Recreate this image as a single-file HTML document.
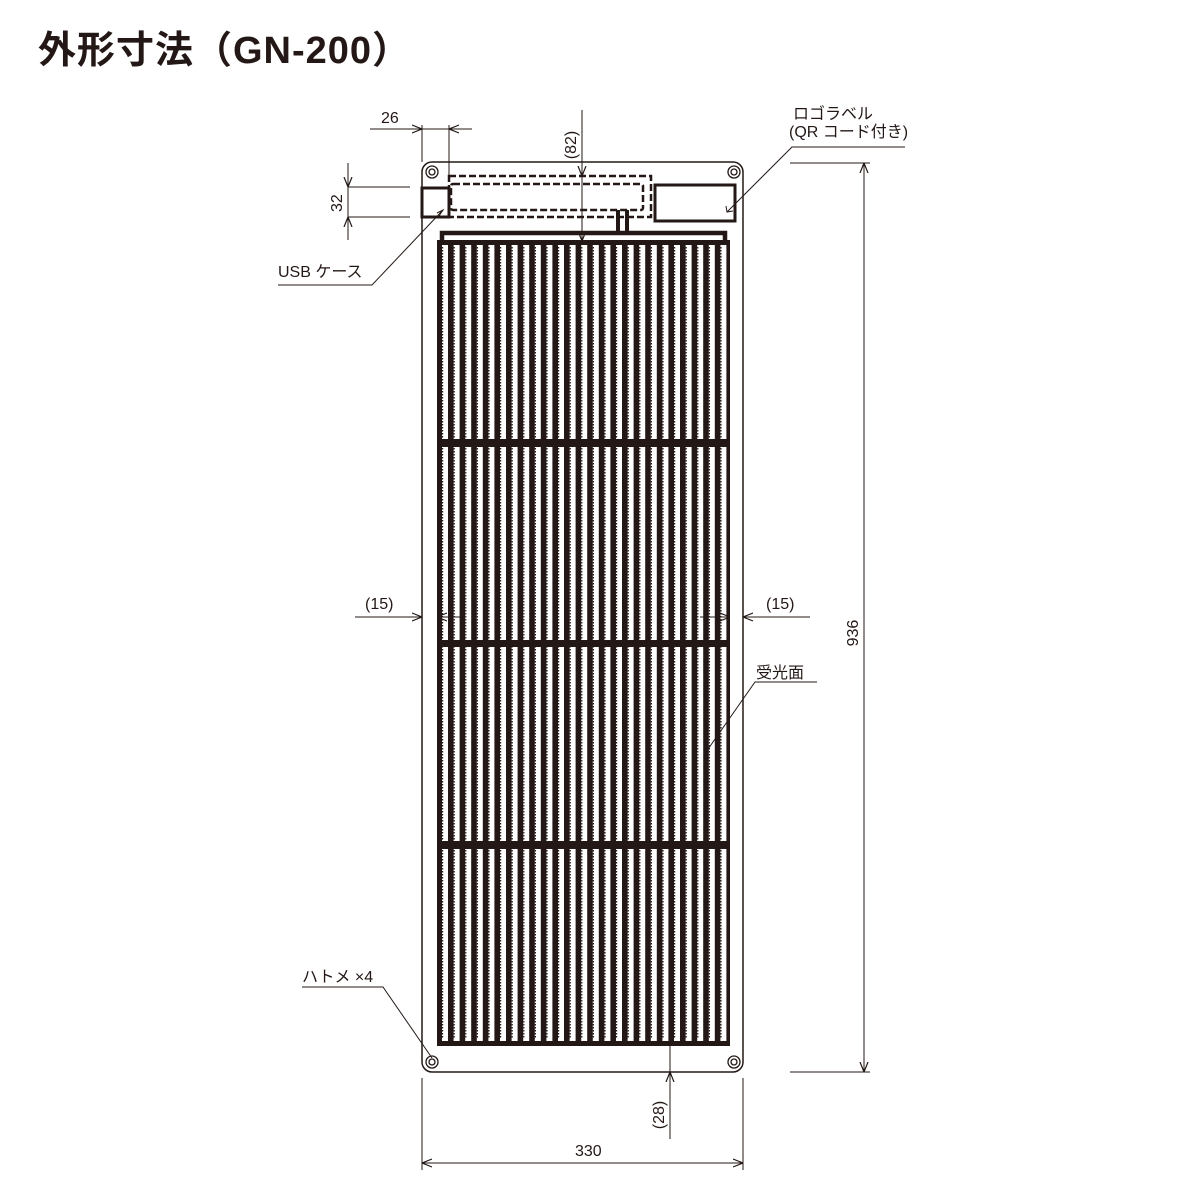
<!DOCTYPE html>
<html><head><meta charset="utf-8"><style>
html,body{margin:0;padding:0;background:#fff;}
svg{display:block;}
text{font-family:"Liberation Sans","Noto Sans CJK JP",sans-serif;fill:#231815;}
</style></head><body>
<svg width="1200" height="1200" viewBox="0 0 1200 1200" xmlns="http://www.w3.org/2000/svg">
<defs>
<g id="c">
<rect x="0" y="245" width="6" height="194" fill="#fff"/>
<rect x="0" y="447" width="6" height="193" fill="#fff"/>
<rect x="0" y="647" width="6" height="194" fill="#fff"/>
<rect x="0" y="849" width="6" height="192" fill="#fff"/>
<line x1="0.6" y1="247" x2="0.6" y2="1039" stroke="#231815" stroke-width="1.2" stroke-dasharray="1.5 1.5"/>
</g>
<marker id="ar" viewBox="0 0 10 10" refX="10" refY="5" markerWidth="10" markerHeight="10" markerUnits="userSpaceOnUse" orient="auto"><path d="M0,1 L10,5 L0,9" fill="none" stroke="#231815" stroke-width="1.2"/></marker>
</defs>
<text x="38" y="63" font-size="38" font-weight="bold" letter-spacing="1">外形寸法（GN-200）</text>

<rect x="422" y="162" width="321" height="910" rx="10" fill="#fff" stroke="#231815" stroke-width="1.5"/>
<g fill="none" stroke="#231815" stroke-width="1.3">
<circle cx="432" cy="172" r="6"/><circle cx="432" cy="172" r="3"/>
<circle cx="734" cy="172" r="6"/><circle cx="734" cy="172" r="3"/>
<circle cx="432" cy="1062" r="6"/><circle cx="432" cy="1062" r="3"/>
<circle cx="734" cy="1062" r="6"/><circle cx="734" cy="1062" r="3"/>
</g>
<rect x="437" y="240" width="293" height="806" fill="#231815"/>
<use href="#c" x="442"/><use href="#c" x="453.6"/><use href="#c" x="465.2"/><use href="#c" x="476.8"/><use href="#c" x="488.4"/>
<use href="#c" x="500"/><use href="#c" x="511.6"/><use href="#c" x="523.2"/><use href="#c" x="534.8"/><use href="#c" x="546.4"/>
<use href="#c" x="558"/><use href="#c" x="569.6"/><use href="#c" x="581.2"/><use href="#c" x="592.8"/><use href="#c" x="604.4"/>
<use href="#c" x="616"/><use href="#c" x="627.6"/><use href="#c" x="639.2"/><use href="#c" x="650.8"/><use href="#c" x="662.4"/>
<use href="#c" x="674"/><use href="#c" x="685.6"/><use href="#c" x="697.2"/><use href="#c" x="708.8"/><use href="#c" x="720.4"/>
<path d="M442,241 V233 H725 V241" fill="none" stroke="#231815" stroke-width="4.5"/>
<path d="M618,210 V233 M627,210 V233" fill="none" stroke="#231815" stroke-width="4"/>
<rect x="449" y="176" width="202" height="41" fill="none" stroke="#231815" stroke-width="2.5" stroke-dasharray="7 3"/>
<rect x="451" y="184" width="192" height="26" rx="2" fill="none" stroke="#231815" stroke-width="2.5" stroke-dasharray="7 3"/>
<rect x="422" y="188" width="27" height="29" fill="none" stroke="#231815" stroke-width="3"/>
<rect x="655" y="185" width="80" height="36" fill="none" stroke="#231815" stroke-width="3"/>

<g stroke="#231815" stroke-width="1" fill="none">
<line x1="422" y1="125" x2="422" y2="162"/><line x1="449" y1="125" x2="449" y2="176"/>
<line x1="370" y1="129" x2="422" y2="129" marker-end="url(#ar)"/>
<line x1="472" y1="129" x2="449" y2="129" marker-end="url(#ar)"/>
<line x1="422" y1="129" x2="449" y2="129"/>
<line x1="348" y1="187" x2="410" y2="187"/><line x1="348" y1="217" x2="410" y2="217"/>
<line x1="348" y1="163" x2="348" y2="187" marker-end="url(#ar)"/>
<line x1="348" y1="240" x2="348" y2="217" marker-end="url(#ar)"/>
<line x1="348" y1="187" x2="348" y2="217"/>
<line x1="582" y1="110" x2="582" y2="176" marker-end="url(#ar)"/>
<line x1="582" y1="176" x2="582" y2="241" marker-end="url(#ar)"/>
<polyline points="278,285 372,285 443,210"/>
<path d="M437,213 L443,210 L439,216"/>
<polyline points="905,147 792,147 727,212"/>
<path d="M726,206 L727,212 L733,211"/>
<line x1="790" y1="163" x2="870" y2="163"/><line x1="790" y1="1072" x2="870" y2="1072"/>
<line x1="864" y1="617" x2="864" y2="163" marker-end="url(#ar)"/>
<line x1="864" y1="617" x2="864" y2="1072" marker-end="url(#ar)"/>
<line x1="355" y1="617" x2="422" y2="617" marker-end="url(#ar)"/>
<line x1="462" y1="617" x2="437" y2="617" marker-end="url(#ar)"/>
<line x1="810" y1="617" x2="743" y2="617" marker-end="url(#ar)"/>
<line x1="700" y1="617" x2="730" y2="617" marker-end="url(#ar)"/>
<polyline points="817,682 755,682 706,752"/>
<polyline points="302,987 383,987 432,1058"/>
<line x1="670" y1="1045" x2="670" y2="1139"/>
<line x1="670" y1="1110" x2="670" y2="1072" marker-end="url(#ar)"/>
<line x1="422" y1="1078" x2="422" y2="1170"/><line x1="743" y1="1078" x2="743" y2="1170"/>
<line x1="582" y1="1163" x2="422" y2="1163" marker-end="url(#ar)"/>
<line x1="582" y1="1163" x2="743" y2="1163" marker-end="url(#ar)"/>
</g>

<g font-size="16">
<text x="381" y="123">26</text>
<text x="342" y="202" transform="rotate(-90 342 202) translate(-10 0)">32</text>
<text x="576" y="145" transform="rotate(-90 576 145)" text-anchor="middle">(82)</text>
<text x="278" y="277">USB ケース</text>
<text x="793" y="119">ロゴラベル</text>
<text x="789" y="137">(QR コード付き)</text>
<text x="858" y="633" transform="rotate(-90 858 633)" text-anchor="middle">936</text>
<text x="365" y="609">(15)</text>
<text x="766" y="609">(15)</text>
<text x="756" y="678">受光面</text>
<text x="302" y="982">ハトメ ×4</text>
<text x="664" y="1115" transform="rotate(-90 664 1115)" text-anchor="middle">(28)</text>
<text x="575" y="1156">330</text>
</g>
</svg>
</body></html>
